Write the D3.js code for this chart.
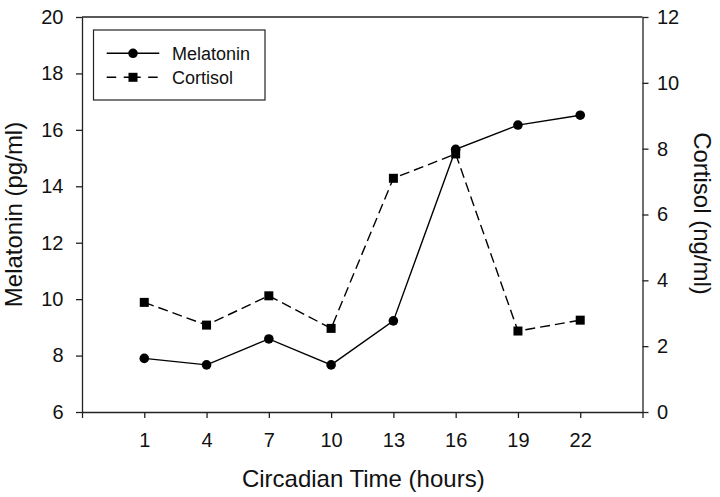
<!DOCTYPE html>
<html>
<head>
<meta charset="utf-8">
<script src="https://cdn.jsdelivr.net/npm/d3@7"></script>
<style>
  html, body { margin: 0; padding: 0; background: #fff; }
  svg { display: block; font-family: "Liberation Sans", Arial, sans-serif; }
</style>
</head>
<body>
<svg id="chart" width="720" height="497"></svg>
<script>
// ---- data ----
const hours = [1, 4, 7, 10, 13, 16, 19, 22];
const melatonin = [7.90, 7.67, 8.59, 7.67, 9.23, 15.31, 16.17, 16.52];
const cortisol = [3.33, 2.64, 3.53, 2.54, 7.10, 7.84, 2.46, 2.79];
const xTicks = [-2, 1, 4, 7, 10, 13, 16, 19, 22, 25];
const xLabels = ["", "1", "4", "7", "10", "13", "16", "19", "22", ""];
const leftTicks = [6, 8, 10, 12, 14, 16, 18, 20];
const rightTicks = [0, 2, 4, 6, 8, 10, 12];
const seriesNames = ["Melatonin", "Cortisol"];

// ---- layout ----
const svg = d3.select("#chart");
const L = 82, R = 642.5, T = 17, B = 412;
const x = d3.scaleLinear().domain([-2, 25]).range([L, R]);
const yL = d3.scaleLinear().domain([6, 20]).range([B, T]);
const yR = d3.scaleLinear().domain([0, 12]).range([B, T]);
const ink = "#000";
const axisColor = "#222";

// top border
svg.append("line").attr("x1", L).attr("x2", R).attr("y1", T).attr("y2", T)
  .attr("stroke", axisColor).attr("stroke-width", 1.3);

// axes
const gx = svg.append("g").attr("transform", `translate(0,${B})`)
  .call(d3.axisBottom(x).tickValues(xTicks).tickSize(6).tickSizeOuter(0).tickPadding(15)
    .tickFormat((d, i) => xLabels[i]));
const gl = svg.append("g").attr("transform", `translate(${L},0)`)
  .call(d3.axisLeft(yL).tickValues(leftTicks).tickSize(6).tickSizeOuter(0).tickPadding(12.5)
    .tickFormat(d3.format("d")));
const gr = svg.append("g").attr("transform", `translate(${R},0)`)
  .call(d3.axisRight(yR).tickValues(rightTicks).tickSize(6).tickSizeOuter(0).tickPadding(8.5)
    .tickFormat(d3.format("d")));
[gx, gl, gr].forEach(g => {
  g.selectAll("path.domain").attr("stroke", axisColor).attr("stroke-width", 1.3);
  g.selectAll(".tick line").attr("stroke", axisColor).attr("stroke-width", 1.3);
  g.selectAll(".tick text").attr("fill", "#111").style("font-size", "20px")
    .style("font-family", "'Liberation Sans', Arial, sans-serif");
});

// lines
const melLine = d3.line().x((d, i) => x(hours[i])).y(d => yL(d));
const corLine = d3.line().x((d, i) => x(hours[i])).y(d => yR(d));

svg.append("path").datum(melatonin).attr("d", melLine)
  .attr("fill", "none").attr("stroke", ink).attr("stroke-width", 1.4);
svg.append("g").selectAll("circle").data(melatonin).join("circle")
  .attr("cx", (d, i) => x(hours[i])).attr("cy", d => yL(d)).attr("r", 4.8).attr("fill", ink);

svg.append("path").datum(cortisol).attr("d", corLine)
  .attr("fill", "none").attr("stroke", ink).attr("stroke-width", 1.4)
  .attr("stroke-dasharray", "10,5");
const sq = 9;
svg.append("g").selectAll("rect").data(cortisol).join("rect")
  .attr("x", (d, i) => x(hours[i]) - sq / 2).attr("y", d => yR(d) - sq / 2)
  .attr("width", sq).attr("height", sq).attr("fill", ink);

// axis titles
svg.append("text").attr("transform", `translate(22,${(T + B) / 2}) rotate(-90)`)
  .attr("text-anchor", "middle").style("font-size", "24px").attr("fill", "#111")
  .text("Melatonin (pg/ml)");
svg.append("text").attr("transform", `translate(694,${(T + B) / 2 - 1}) rotate(90)`)
  .attr("text-anchor", "middle").style("font-size", "24px").attr("fill", "#111")
  .text("Cortisol (ng/ml)");
svg.append("text").attr("x", (L + R) / 2 + 1).attr("y", 487)
  .attr("text-anchor", "middle").style("font-size", "24px").attr("fill", "#111")
  .text("Circadian Time (hours)");

// legend
const lg = svg.append("g");
lg.append("rect").attr("x", 93.5).attr("y", 30).attr("width", 171.5).attr("height", 70)
  .attr("fill", "#fff").attr("stroke", axisColor).attr("stroke-width", 1.2);
const rows = [53.3, 77.3];
// melatonin row
lg.append("line").attr("x1", 106.7).attr("x2", 159.3).attr("y1", rows[0]).attr("y2", rows[0])
  .attr("stroke", ink).attr("stroke-width", 1.4);
lg.append("circle").attr("cx", 133).attr("cy", rows[0]).attr("r", 4.8).attr("fill", ink);
// cortisol row
lg.append("line").attr("x1", 106.7).attr("x2", 159.3).attr("y1", rows[1]).attr("y2", rows[1])
  .attr("stroke", ink).attr("stroke-width", 1.4).attr("stroke-dasharray", "9.5,7.5,17,7.5,9.5");
lg.append("rect").attr("x", 133 - sq / 2).attr("y", rows[1] - sq / 2).attr("width", sq).attr("height", sq)
  .attr("fill", ink);
lg.selectAll("text.lab").data(seriesNames).join("text").attr("class", "lab")
  .attr("x", 172).attr("y", (d, i) => rows[i] + 6.3)
  .style("font-size", "18px").attr("fill", "#111").text(d => d);
</script>
</body>
</html>
